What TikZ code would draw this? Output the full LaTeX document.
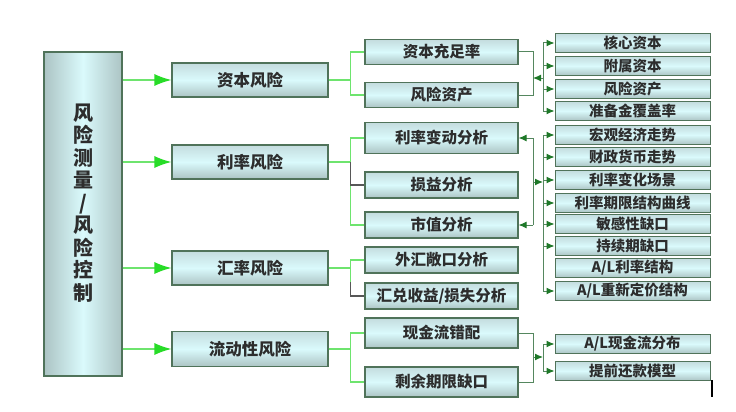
\documentclass[tikz,border=0pt]{standalone}
\usepackage{fontspec}
\newfontfamily\cjk{Noto Sans CJK SC}
\usepackage{tikz}
\usetikzlibrary{arrows.meta,positioning,calc}
\usepackage{xcolor}
\definecolor{boxedge}{RGB}{80,115,90}
\definecolor{boxtop}{RGB}{196,220,222}
\definecolor{boxmid}{RGB}{218,250,252}
\definecolor{boxbot}{RGB}{172,196,196}
\definecolor{brightgreen}{RGB}{110,228,110}
\definecolor{tipgreen}{RGB}{40,220,40}
\definecolor{busgreen}{RGB}{85,135,95}
\definecolor{darktip}{RGB}{30,120,40}
\definecolor{inkgray}{RGB}{45,45,45}

\tikzset{
  riskbox/.style={draw=boxedge, line width=1.2pt, left color=boxbot, right color=boxbot, middle color=boxmid, minimum width=78pt, minimum height=324pt},
  levelone/.style={draw=boxedge, line width=1.2pt, top color=boxtop, bottom color=boxbot, middle color=boxmid, minimum width=156pt, minimum height=34pt, text=inkgray, font=\cjk\bfseries\fontsize{16.5pt}{18pt}\selectfont},
  leveltwo/.style={draw=boxedge, line width=1.1pt, top color=boxtop, bottom color=boxbot, middle color=boxmid, minimum width=153pt, minimum height=26pt, inner sep=1pt, text=inkgray, font=\cjk\bfseries\fontsize{15.5pt}{17pt}\selectfont},
  levelthree/.style={draw=boxedge, line width=1pt, top color=boxtop, bottom color=boxbot, middle color=boxmid, minimum width=155pt, minimum height=19pt, inner sep=0pt, text=inkgray, font=\cjk\bfseries\fontsize{14.5pt}{15pt}\selectfont},
  mainarrow/.style={draw=brightgreen, line width=1.2pt, -{Latex[length=17pt,width=12pt,color=tipgreen]}},
  treeline/.style={draw=brightgreen, line width=1.2pt},
  darkline/.style={draw=inkgray!80, line width=1.2pt},
  busline/.style={draw=busgreen, line width=1pt},
  busarrow/.style={draw=busgreen, line width=1pt, -{Latex[length=8pt,width=7pt,color=darktip]}}
}

\begin{document}
\begin{tikzpicture}[x=1pt, y=-1pt]
  \useasboundingbox (0,0) rectangle (736,412);
  % main box
  \node[riskbox] (main) at (83,214) {};
  \node[text=inkgray, align=center, font=\cjk\bfseries\fontsize{20pt}{22.5pt}\selectfont] (mainlabel) at (83,203) {风\\险\\测\\量\\/\\风\\险\\控\\制};

  % first level
  \node[levelone] (cap) at (250,80) {资本风险};
  \node[levelone] (rate) at (250,162) {利率风险};
  \node[levelone] (fx) at (250,268) {汇率风险};
  \node[levelone, minimum height=35pt] (liq) at (250,349) {流动性风险};

  % second level
  \node[leveltwo, minimum height=25pt] (car) at (441.5,52) {资本充足率};
  \node[leveltwo, minimum height=25pt] (rasset) at (441.5,95) {风险资产};
  \node[leveltwo, minimum height=31pt] (rchange) at (441.5,138) {利率变动分析};
  \node[leveltwo] (pnl) at (441.5,185) {损益分析};
  \node[leveltwo] (mval) at (441.5,225) {市值分析};
  \node[leveltwo] (fxexp) at (441.5,260) {外汇敞口分析};
  \node[leveltwo] (fxgain) at (441.5,296) {汇兑收益/损失分析};
  \node[leveltwo, minimum height=30pt] (cfm) at (441.5,333) {现金流错配};
  \node[leveltwo, minimum height=30pt] (rgap) at (441.5,382) {剩余期限缺口};

  % third level
  \node[levelthree] (core) at (632.5,43) {核心资本};
  \node[levelthree] (supp) at (632.5,66) {附属资本};
  \node[levelthree] (rwa) at (632.5,89) {风险资产};
  \node[levelthree] (cover) at (632.5,111) {准备金覆盖率};
  \node[levelthree] (macro) at (632.5,135) {宏观经济走势};
  \node[levelthree] (fiscal) at (632.5,157) {财政货币走势};
  \node[levelthree] (scen) at (632.5,180) {利率变化场景};
  \node[levelthree] (curve) at (632.5,203) {利率期限结构曲线};
  \node[levelthree] (sgap) at (632.5,224) {敏感性缺口};
  \node[levelthree] (dgap) at (632.5,246) {持续期缺口};
  \node[levelthree] (alrate) at (632.5,268) {A/L利率结构};
  \node[levelthree] (alprice) at (632.5,291) {A/L重新定价结构};
  \node[levelthree] (alcf) at (632.5,344) {A/L现金流分布};
  \node[levelthree] (prepay) at (632.5,371) {提前还款模型};

  % main box to first level
  \draw[mainarrow] (main.east |- cap.west) -- (cap.west);
  \draw[mainarrow] (main.east |- rate.west) -- (rate.west);
  \draw[mainarrow] (main.east |- fx.west) -- (fx.west);
  \draw[mainarrow] (main.east |- liq.west) -- (liq.west);

  % first level to second level
  \draw[treeline] (cap.east) -- ++(22,0) |- (car.west);
  \draw[treeline] (cap.east) -- ++(22,0) |- (rasset.west);
  \draw[treeline] (rate.east) -- ++(22,0) |- (rchange.west);
  \draw[treeline] (rate.east) -- ++(22,0) |- (mval.west);
  \draw[darkline] (rate.east) ++(22,0) |- (pnl.west);
  \draw[treeline] (fx.east) -- ++(22,0) |- (fxexp.west);
  \draw[treeline] (fx.east) ++(22,0) -- ++(0,14);
  \draw[darkline] (fx.east) ++(22,14) |- (fxgain.west);
  \draw[treeline] (liq.east) -- ++(22,0) |- (cfm.west);
  \draw[treeline] (liq.east) -- ++(22,0) |- (rgap.west);

  % capital group
  \coordinate (capj) at (533,78);
  \coordinate (capbus) at (543,78);
  \draw[busline] (car.east) -| (capj);
  \draw[busline] (rasset.east) -| (capj);
  \draw[busarrow] (capbus) -- (capj);
  \draw[busline] (capbus |- core.west) -- (capbus |- cover.west);
  \draw[busarrow] (capbus |- core.west) -- (core.west);
  \draw[busarrow] (capbus |- supp.west) -- (supp.west);
  \draw[busarrow] (capbus |- rwa.west) -- (rwa.west);
  \draw[busarrow] (capbus |- cover.west) -- (cover.west);

  % rate group
  \coordinate (ratej) at (533,182);
  \coordinate (ratebus) at (543,182);
  \draw[busline] (ratej |- rchange.east) -- (ratej |- mval.east);
  \draw[busarrow] (ratej |- rchange.east) -- (rchange.east);
  \draw[busarrow] (ratej |- mval.east) -- (mval.east);
  \draw[busarrow] (ratej) -- (ratebus);
  \draw[busline] (ratebus |- macro.west) -- (ratebus |- alprice.west);
  \draw[busarrow] (ratebus |- macro.west) -- (macro.west);
  \draw[busarrow] (ratebus |- fiscal.west) -- (fiscal.west);
  \draw[busarrow] (ratebus |- scen.west) -- (scen.west);
  \draw[busarrow] (ratebus |- curve.west) -- (curve.west);
  \draw[busarrow] (ratebus |- sgap.west) -- (sgap.west);
  \draw[busarrow] (ratebus |- dgap.west) -- (dgap.west);
  \draw[busarrow] (ratebus |- alprice.west) -- (alprice.west);

  % liquidity group
  \coordinate (liqj) at (533,357);
  \coordinate (liqbus) at (543,357);
  \draw[busline] (cfm.east) -| (liqj);
  \draw[busline] (rgap.east) -| (liqj);
  \draw[busarrow] (liqj) -- (liqbus);
  \draw[busline] (liqbus |- alcf.west) -- (liqbus |- prepay.west);
  \draw[busarrow] (liqbus |- alcf.west) -- (alcf.west);
  \draw[busarrow] (liqbus |- prepay.west) -- (prepay.west);

  % stray mark
  \draw[black, line width=1.5pt] (712,380) -- (712,397);
\end{tikzpicture}
\end{document}
